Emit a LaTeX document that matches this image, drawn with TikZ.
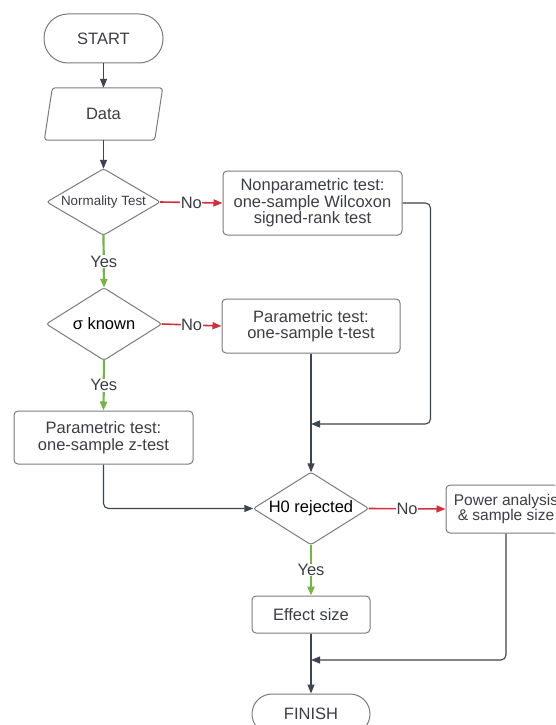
\documentclass[tikz,border=0pt]{standalone}
\usepackage{fontspec}
\setmainfont{Liberation Sans}
\usetikzlibrary{arrows.meta}
\definecolor{txt}{HTML}{3B3F45}
\definecolor{bord}{HTML}{7A7C80}
\definecolor{conn}{HTML}{3D4550}
\definecolor{redc}{HTML}{D2303C}
\definecolor{greenc}{HTML}{76B544}
\tikzset{
  base/.style={draw=bord, line width=1pt, text=txt, font=\fontsize{16.5}{16.5}\selectfont, align=center, inner sep=0pt},
  procbox/.style={base, rectangle, rounded corners=4pt},
  termbox/.style={base, rectangle, rounded corners=24pt},
  decanchor/.style={rectangle, inner sep=0pt, text=black, font=\fontsize{16.5}{16.5}\selectfont},
  decline/.style={draw=bord, line width=1pt, rounded corners=2.5pt},
  conn/.style={draw=conn, line width=1.1pt, rounded corners=5pt, -{Triangle[length=9pt,width=7pt]}},
  nolink/.style={draw=redc, line width=1.6pt, -{Triangle[length=9pt,width=7pt]}},
  yeslink/.style={draw=greenc, line width=2.2pt, -{Triangle[length=9pt,width=7pt]}},
  lab/.style={fill=white, text=txt, inner sep=0.5pt, font=\fontsize{16.5}{16.5}\selectfont},
}
\newcommand{\decdraw}[1]{\draw[decline] (#1.north) -- (#1.east) -- (#1.south) -- (#1.west) -- cycle;}
\begin{document}
\begin{tikzpicture}[x=1pt,y=-1pt]
\useasboundingbox (0,0) rectangle (555,725);
\clip (0,0) rectangle (555,725);
\fill[white] (0,0) rectangle (555,725);

\node[termbox, minimum width=119pt, minimum height=49pt] (start) at (103.5,38.5) {START};
\node[inner sep=0pt, minimum width=110pt, minimum height=52pt, text=txt, font=\fontsize{16.5}{16.5}\selectfont] (data) at (103.5,114) {Data};
\draw[draw=bord, line width=1pt, rounded corners=3pt]
  ([xshift=4pt]data.north west) -- ([xshift=4pt]data.north east) -- ([xshift=-4pt]data.south east) -- ([xshift=-4pt]data.south west) -- cycle;
\node[decanchor, minimum width=113pt, minimum height=66pt, text=txt, font=\fontsize{13.4}{14}\selectfont] (norm) at (103.5,202) {Normality Test};
\decdraw{norm}
\node[procbox, minimum width=179pt, minimum height=64pt] (nonpar) at (312.5,203) {Nonparametric test:\\one-sample Wilcoxon\\signed-rank test};
\node[decanchor, minimum width=115pt, minimum height=72pt] (sigma) at (104,324) {σ known};
\decdraw{sigma}
\node[procbox, minimum width=178pt, minimum height=54pt] (ttest) at (311,326) {Parametric test:\\one-sample t-test};
\node[procbox, minimum width=179pt, minimum height=53pt] (ztest) at (103.5,437.5) {Parametric test:\\one-sample z-test};
\node[decanchor, minimum width=115pt, minimum height=72pt] (h0) at (311,508.5) {H0 rejected};
\decdraw{h0}
\node[procbox, minimum width=120pt, minimum height=48pt, font=\fontsize{15.5}{15.5}\selectfont] (power) at (506,509) {Power analysis\\\& sample size};
\node[procbox, minimum width=118pt, minimum height=37pt] (effect) at (311,614.5) {Effect size};
\node[termbox, minimum width=118pt, minimum height=40pt, rounded corners=20pt] (finish) at (311,714) {FINISH};

\coordinate (j1) at (311,424);
\coordinate (j2) at (311,660);

\draw[conn] (start) -- (data);
\draw[conn] (data.south) -- (norm.north);
\draw[nolink] (norm.east) -- node[lab] {No} (nonpar.west);
\draw[yeslink] (norm.south) -- node[lab] {Yes} (sigma.north);
\draw[nolink] (sigma.east) -- node[lab] {No} (ttest.west);
\draw[yeslink] (sigma.south) -- node[lab] {Yes} (ztest.north);
\draw[conn] (nonpar.east) -- ++(28,0) |- (j1);
\draw[conn] (ttest.south) -- (h0.north);
\draw[conn] (ztest.south) |- (h0.west);
\draw[nolink] (h0.east) -- node[lab] {No} (power.west);
\draw[yeslink] (h0.south) -- node[lab] {Yes} (effect.north);
\draw[conn] (power.south) |- (j2);
\draw[conn] (effect.south) -- (finish.north);
\end{tikzpicture}
\end{document}
